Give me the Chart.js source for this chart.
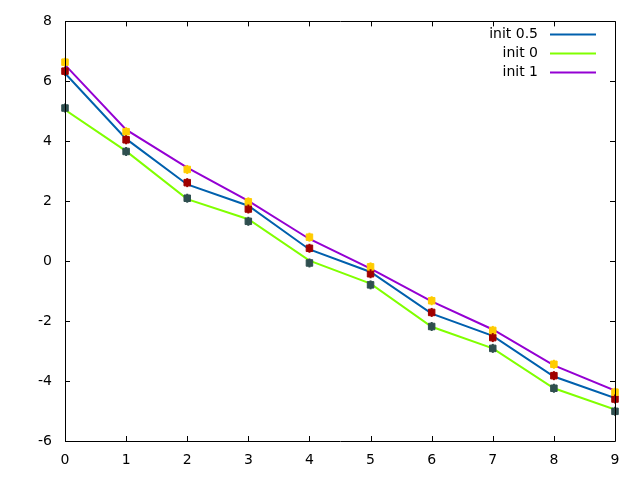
<!DOCTYPE html>
<html>
<head>
<meta charset="utf-8">
<script src="https://cdn.jsdelivr.net/npm/chart.js@4.4.0/dist/chart.umd.min.js"></script>
<style>
  html, body { margin: 0; padding: 0; background: #fff; }
  #wrap { width: 640px; height: 480px; }
</style>
</head>
<body>
<div id="wrap"><canvas id="myChart" width="640" height="480"></canvas></div>
<script>
// x positions
const xs = [0, 1, 2, 3, 4, 5, 6, 7, 8, 9];

// fitted lines
const lineHalf = [6.27, 4.08, 2.56, 1.85, 0.39, -0.36, -1.75, -2.49, -3.85, -4.57];
const lineZero = [5.05, 3.67, 2.07, 1.40, 0.02, -0.75, -2.19, -2.91, -4.24, -4.95];
const lineOne = [6.55, 4.39, 3.12, 2.01, 0.74, -0.25, -1.34, -2.28, -3.48, -4.32];

// measured points
const ptsHalf = [6.34, 4.05, 2.62, 1.74, 0.43, -0.42, -1.71, -2.55, -3.82, -4.60];
const ptsZero = [5.11, 3.66, 2.10, 1.33, -0.06, -0.79, -2.18, -2.91, -4.24, -5.01];
const ptsOne = [6.64, 4.32, 3.06, 1.98, 0.80, -0.19, -1.32, -2.31, -3.44, -4.37];

const yTicks = [-6, -4, -2, 0, 2, 4, 6, 8];

const FONT = 'DejaVu Sans';

function pts(arr) {
  return arr.map(function (v, i) { return { x: xs[i], y: v }; });
}

function lineSet(label, color, arr) {
  return {
    label: label,
    data: pts(arr),
    borderColor: color,
    backgroundColor: color,
    borderWidth: 2,
    pointRadius: 0,
    tension: 0,
    order: 2,
    isLine: true
  };
}

function markSet(color, arr) {
  return {
    label: '',
    data: pts(arr),
    showLine: false,
    pointStyle: 'rect',
    pointRadius: 4.6,
    borderWidth: 1,
    borderColor: color,
    backgroundColor: color,
    clip: false,
    order: 1,
    isLine: false
  };
}

// small whiskers through the markers
const whiskers = {
  id: 'whiskers',
  afterDatasetsDraw: function (chart) {
    const ctx = chart.ctx;
    ctx.save();
    chart.data.datasets.forEach(function (d, i) {
      if (d.isLine) return;
      ctx.strokeStyle = d.borderColor;
      ctx.lineWidth = 2;
      chart.getDatasetMeta(i).data.forEach(function (p) {
        ctx.beginPath();
        ctx.moveTo(p.x, p.y - 4.5);
        ctx.lineTo(p.x, p.y + 4.5);
        ctx.stroke();
      });
    });
    ctx.restore();
  }
};

// inward ticks on all four sides + frame
const frameTicks = {
  id: 'frameTicks',
  afterDraw: function (chart) {
    const ctx = chart.ctx;
    const a = chart.chartArea;
    const sx = chart.scales.x;
    const sy = chart.scales.y;
    ctx.save();
    ctx.strokeStyle = '#000';
    ctx.lineWidth = 1;
    ctx.beginPath();
    ctx.rect(Math.round(a.left) + 0.5, Math.round(a.top) + 0.5,
      Math.round(a.right - a.left), Math.round(a.bottom - a.top));
    xs.forEach(function (v) {
      const px = Math.round(sx.getPixelForValue(v)) + 0.5;
      ctx.moveTo(px, a.bottom); ctx.lineTo(px, a.bottom - 5);
      ctx.moveTo(px, a.top); ctx.lineTo(px, a.top + 5);
    });
    yTicks.forEach(function (v) {
      const py = Math.round(sy.getPixelForValue(v)) + 0.5;
      ctx.moveTo(a.left, py); ctx.lineTo(a.left + 5, py);
      ctx.moveTo(a.right, py); ctx.lineTo(a.right - 5, py);
    });
    ctx.stroke();
    ctx.restore();
  }
};

// gnuplot style key, top right
const keyPlugin = {
  id: 'keyPlugin',
  afterDraw: function (chart) {
    const ctx = chart.ctx;
    const a = chart.chartArea;
    const sets = chart.data.datasets.filter(function (d) { return d.isLine; });
    ctx.save();
    ctx.font = '14px "' + FONT + '"';
    ctx.textAlign = 'right';
    ctx.textBaseline = 'middle';
    sets.forEach(function (d, i) {
      const y = a.top + 13 + i * 19;
      ctx.fillStyle = '#000';
      ctx.fillText(d.label, a.right - 77, y);
      ctx.strokeStyle = d.borderColor;
      ctx.lineWidth = 2;
      ctx.beginPath();
      ctx.moveTo(a.right - 65, y);
      ctx.lineTo(a.right - 19, y);
      ctx.stroke();
    });
    ctx.restore();
  }
};

const data = {
  datasets: [
    markSet('#ffcc00', ptsOne),
    markSet('#a00000', ptsHalf),
    markSet('#2f4f4f', ptsZero),
    lineSet('init 0.5', '#0060ad', lineHalf),
    lineSet('init 0', '#80ff00', lineZero),
    lineSet('init 1', '#9400d3', lineOne)
  ]
};

const config = {
  type: 'line',
  data: data,
  options: {
    responsive: false,
    animation: false,
    layout: { padding: { left: 0, right: 25, top: 19, bottom: 0 } },
    plugins: {
      legend: { display: false },
      tooltip: { enabled: false }
    },
    scales: {
      x: {
        type: 'linear',
        min: 0,
        max: 9,
        afterFit: function (s) { s.height = 39; },
        afterBuildTicks: function (s) { s.ticks = xs.map(function (v) { return { value: v }; }); },
        grid: { display: false, drawTicks: false },
        border: { display: false },
        ticks: { color: '#000', padding: 11, font: { family: FONT, size: 14 } }
      },
      y: {
        min: -6,
        max: 8,
        afterFit: function (s) { s.width = 65; },
        afterBuildTicks: function (s) { s.ticks = yTicks.map(function (v) { return { value: v }; }); },
        grid: { display: false, drawTicks: false },
        border: { display: false },
        ticks: { color: '#000', padding: 13, font: { family: FONT, size: 14 } }
      }
    }
  },
  plugins: [whiskers, frameTicks, keyPlugin]
};

const myChart = new Chart(document.getElementById('myChart'), config);
</script>
</body>
</html>
